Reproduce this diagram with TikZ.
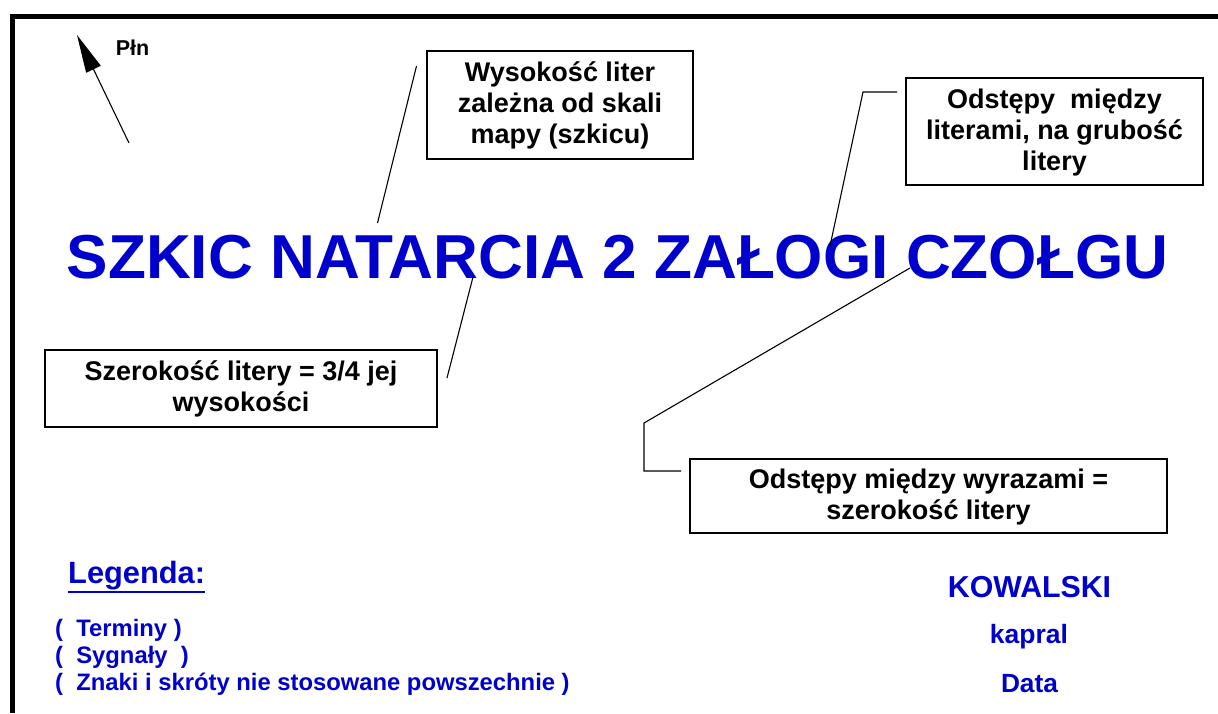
\documentclass[tikz,border=0pt]{standalone}
\usepackage{fontspec}
\setmainfont{Liberation Sans}
\usetikzlibrary{arrows.meta}
\definecolor{sketchblue}{RGB}{0,0,204}
\tikzset{
  note/.style={draw=black, line width=1.4pt, fill=white, align=center, inner sep=0pt,
    font=\fontsize{27}{31}\selectfont\bfseries, text=black},
  leader/.style={draw=black, line width=1.1pt},
  bluetext/.style={text=sketchblue, inner sep=0pt, font=\bfseries},
}
\begin{document}
\begin{tikzpicture}[x=1pt, y=-1pt]
\useasboundingbox (0,0) rectangle (1218,713);
\fill[white] (0,0) rectangle (1218,713);
% frame
\draw[line width=5pt, line join=miter] (12.5,713) -- (12.5,16.5) -- (1218,16.5);

% north arrow
\coordinate (ntail) at (129,143);
\coordinate (ntip) at (77,35);
\draw[line width=1.1pt, -{Triangle[length=38pt,width=16pt]}] (ntail) -- (ntip);
\node[inner sep=0pt, font=\fontsize{21.5}{24}\selectfont\bfseries, anchor=base] (pln) at (132.5,55) {Płn};

% title
\node[bluetext, font=\fontsize{62.1}{70}\selectfont\bfseries, anchor=base] (title) at (617.5,278) {SZKIC NATARCIA 2 ZAŁOGI CZOŁGU};

% notes
\node[note, minimum width=266pt, minimum height=108pt, text depth=4pt] (n1) at (560,105) {Wysokość liter\\zależna od skali\\mapy (szkicu)};
\node[note, minimum width=297pt, minimum height=107pt, text depth=4pt] (n2) at (1054.5,131.5) {Odstępy\ \ między\\literami, na grubość\\litery};
\node[note, minimum width=392pt, minimum height=77pt, text depth=4pt] (n3) at (241,388.5) {Szerokość litery = 3/4 jej\\wysokości};
\node[note, minimum width=477pt, minimum height=74pt, text depth=4pt] (n4) at (928.5,496) {Odstępy między wyrazami =\\szerokość litery};

% leaders
\coordinate (a1) at (416.5,66);
\coordinate (a2) at (377.5,223);
\draw[leader] (a1) -- (a2);
\coordinate (b1) at (897,92);
\coordinate (b2) at (863,92);
\coordinate (b3) at (830,246);
\draw[leader] (b1) -- (b2) -- (b3);
\coordinate (c1) at (447,378);
\coordinate (c2) at (473,277);
\draw[leader] (c1) -- (c2);
\coordinate (d1) at (910,268);
\coordinate (d2) at (644,423);
\coordinate (d3) at (644,471);
\coordinate (d4) at (681,471);
\draw[leader] (d1) -- (d2) -- (d3) -- (d4);

% legend
\node[bluetext, font=\fontsize{30.8}{34}\selectfont\bfseries, anchor=base west] (leg) at (68,583) {Legenda:};
\draw[sketchblue, line width=2pt] ([yshift=-2pt]leg.south west) -- ([yshift=-2pt]leg.south east);
\node[bluetext, font=\fontsize{23.8}{27}\selectfont\bfseries, anchor=base west] (l1) at (55,636) {(\ \ Terminy )};
\node[bluetext, font=\fontsize{23.8}{27}\selectfont\bfseries, anchor=base west] (l2) at (55,663) {(\ \ Sygnały\ \ )};
\node[bluetext, font=\fontsize{23.8}{27}\selectfont\bfseries, anchor=base west] (l3) at (55,690) {(\ \ Znaki i skróty nie stosowane powszechnie )};

% signature
\node[bluetext, font=\fontsize{30.3}{34}\selectfont\bfseries, anchor=base] (name) at (1029.5,597) {KOWALSKI};
\node[bluetext, font=\fontsize{26.5}{30}\selectfont\bfseries, anchor=base] (rank) at (1029,643) {kapral};
\node[bluetext, font=\fontsize{26.3}{30}\selectfont\bfseries, anchor=base] (date) at (1029.5,692) {Data};
\end{tikzpicture}
\end{document}
